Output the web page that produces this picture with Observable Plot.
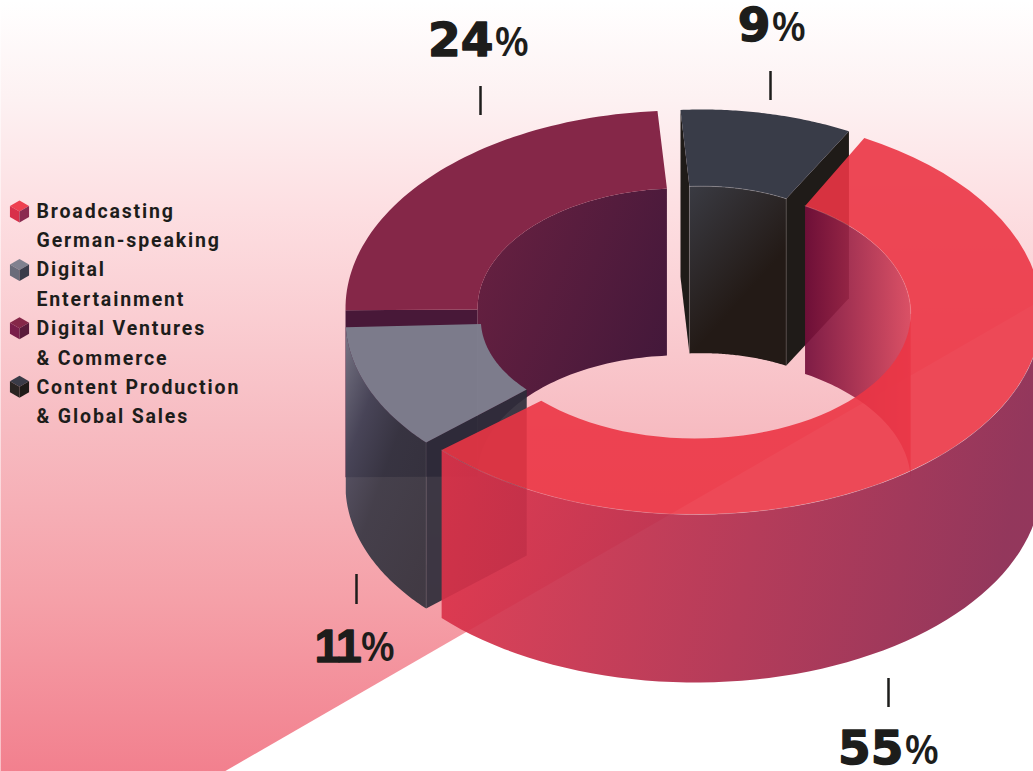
<!DOCTYPE html>
<html>
<head>
<meta charset="utf-8">
<script src="https://cdn.jsdelivr.net/npm/d3@7"></script>
<script src="https://cdn.jsdelivr.net/npm/@observablehq/plot@0.6"></script>
<style>
html,body{margin:0;padding:0;background:#fff;overflow:hidden}
svg{display:block}
.legend text{letter-spacing:1.85px}
.tight text{letter-spacing:-2px}
</style>
</head>
<body>
<div id="chart"></div>
<script>
// ---- data
const segments = ["Broadcasting German-speaking","Digital Entertainment","Digital Ventures & Commerce","Content Production & Global Sales"];
const shares = [55, 11, 24, 9];
const legendLines = [["Broadcasting","German-speaking"],["Digital","Entertainment"],["Digital Ventures","& Commerce"],["Content Production","& Global Sales"]];

// ---- layout of the extruded, exploded ring
const W = 1033, H = 771;
const red  = {share: shares[0], cx: 695, cy: 313, rx: 346, ry: 201, ir: .622, start: -60.8, depth: 168, trim: 1.4};
const grey = {share: shares[1], cx: 659, cy: 319, rx: 314, ry: 184, ir: .569, start: 138,   depth: 166, trim: 0};
const plum = {share: shares[2], cx: 681, cy: 308, rx: 336, ry: 198, ir: .607, start: -180.5,depth: 167, trim: 0};
const dark = {share: shares[3], cx: 701, cy: 289, rx: 309, ry: 180, ir: .574, start: -93.9, depth: 167, trim: 0};
const endOf = w => w.start + w.share * 3.6;

const arc = (w, r, a0, a1, d = 0) => d3.range(0, 61).map(i => {
  const t = (a0 + (a1 - a0) * i / 60) * Math.PI / 180;
  return [w.cx + w.rx * r * Math.cos(t), w.cy + w.ry * r * Math.sin(t) + d];
});
const topFace = w => [...arc(w, 1, w.start, endOf(w)), ...arc(w, w.ir, endOf(w) - w.trim, w.start + w.trim)];
const wall = (w, r, a0, a1) => [...arc(w, r, a0, a1), ...arc(w, r, a1, a0, w.depth)];
const cap = (w, a) => [...arc(w, 1, a, a).slice(0, 1), ...arc(w, w.ir, a, a).slice(0, 1),
                       ...arc(w, w.ir, a, a, w.depth).slice(0, 1), ...arc(w, 1, a, a, w.depth).slice(0, 1)];
const upright = (w, r, a) => [...arc(w, r, a, a).slice(0, 1), ...arc(w, r, a, a, w.depth).slice(0, 1)];
const face = (pts, fill, fillOpacity = 1) => Plot.line(pts, {x: d => d[0], y: d => d[1], fill, fillOpacity, stroke: "none"});
const edge = (pts, strokeOpacity = .4) => Plot.line(pts, {x: d => d[0], y: d => d[1], stroke: "#fff", strokeOpacity, strokeWidth: .7});

const gradients = () => {
  const defs = document.createElementNS("http://www.w3.org/2000/svg", "defs");
  const lg = (id, x2, y2, stops) => `<linearGradient id="${id}" x1="0" y1="0" x2="${x2}" y2="${y2}">` +
    stops.map(([o, c]) => `<stop offset="${o}" stop-color="${c}"/>`).join("") + `</linearGradient>`;
  defs.innerHTML =
    lg("gBg", 0, 1, [[0,"#ffffff"],[.13,"#fdf1f2"],[.27,"#fddfe2"],[.55,"#f7bcc2"],[.78,"#f5a0a8"],[1,"#f2808e"]]) +
    lg("gPlumIn", 1, .6, [[0,"#6a2141"],[1,"#43183a"]]) +
    lg("gDarkIn", .6, 1, [[0,"#3a3b43"],[.7,"#231a16"],[1,"#231a16"]]) +
    lg("gRedIn", 1, 0, [[0,"#740e3a"],[1,"#d8465c"]]) +
    lg("gRedOut", 1, .12, [[0,"#e23349"],[1,"#8a264e"]]) +
    lg("gGreyOut", .8, 1, [[0,"#7c7e8c"],[.3,"#48485a"],[.55,"#363642"],[1,"#32313b"]]);
  return defs;
};

const cube = part => ({draw(c, size) {
  const k = Math.sqrt(size / Math.PI), a = k * .87, b = k * .5;
  if (part === "top") { c.moveTo(0, -k); c.lineTo(a, -b); c.lineTo(0, 0); c.lineTo(-a, -b); }
  if (part === "left") { c.moveTo(-a, -b); c.lineTo(0, 0); c.lineTo(0, k); c.lineTo(-a, b); }
  if (part === "right") { c.moveTo(a, -b); c.lineTo(0, 0); c.lineTo(0, k); c.lineTo(a, b); }
  c.closePath();
}});

const cubeColors = [["#ee4050","#d8304a","#8a2a50"],["#80818f","#6a6c7a","#3a3c4a"],["#852748","#7a1e4a","#5a1a3a"],["#3a3b47","#2a2422","#1f1b18"]];
const legendTop = 211, legendStep = 29.35, ink = "#1d1d1b";
const legendText = legendLines.flatMap((ls, i) => ls.map((t, j) => ({t, row: i * 2 + j})));
const cubeRows = legendLines.map((_, i) => ({i, y: legendTop + i * 2 * legendStep - .3 * i}));

const labels = [
  {v: shares[0], x: 903, y: 766, tx: 888, t1: 678, t2: 707},
  {v: shares[1], x: 359, y: 663, tx: 356, t1: 574, t2: 604},
  {v: shares[2], x: 493, y: 58,  tx: 480, t1: 86,  t2: 115},
  {v: shares[3], x: 770, y: 43,  tx: 770, t1: 71,  t2: 100}
];

const bgEdge = x => 771 - (x - 224) * .577;

const chart = Plot.plot({
  width: W, height: H, margin: 0,
  x: {domain: [0, W], range: [0, W], axis: null},
  y: {domain: [0, H], range: [0, H], axis: null},
  style: {background: "#fff", overflow: "hidden"},
  marks: [
    gradients,
    face([[0,0],[W,0],[W,bgEdge(W)],[224,H],[0,H]], "url(#gBg)"),

    // Digital Ventures & Commerce
    face(wall(plum, plum.ir, plum.start, endOf(plum)), "url(#gPlumIn)"),
    face(cap(plum, plum.start), "#481838"),
    face(topFace(plum), "#852748"),

    // Digital Entertainment
    face(wall(grey, 1, grey.start, endOf(grey)), "url(#gGreyOut)", .92),
    face(cap(grey, grey.start), "#2c2c39", .92),
    edge(upright(grey, 1, grey.start), .15),
    face(topFace(grey), "#7e7f8e", .97),

    // Content Production & Global Sales
    face(cap(dark, dark.start), "#1f1b18"),
    face(cap(dark, endOf(dark)), "#1f1b18"),
    face(wall(dark, dark.ir, dark.start, endOf(dark)), "url(#gDarkIn)"),
    face(topFace(dark), "#393c48"),
    edge(arc(dark, dark.ir, dark.start, endOf(dark)), .3),
    edge(upright(dark, dark.ir, endOf(dark)), .22),
    edge(upright(dark, dark.ir, dark.start), .22),

    // Broadcasting German-speaking
    face(wall(red, red.ir, red.start + red.trim, -1), "url(#gRedIn)", .92),
    face(topFace(red), "#eb3545", .9),
    face(wall(red, 1, 0, endOf(red)), "url(#gRedOut)", .92),
    edge(arc(red, 1, 0, endOf(red)), .22),
    edge(arc(red, red.ir, red.start + red.trim, 0), .25),

    // value ticks and labels
    Plot.ruleX(labels, {x: "tx", y1: "t1", y2: "t2", stroke: ink, strokeWidth: 2.5}),
    Plot.text(labels.filter(d => d.v !== 11), {x: "x", y: "y", text: d => `${d.v}`, textAnchor: "end", lineAnchor: "bottom", dy: -3,
      fontFamily: "DejaVu Sans", fontWeight: 700, fontSize: 47, fill: ink, stroke: ink, strokeWidth: 1.4}),
    Plot.text(labels.filter(d => d.v === 11), {x: "x", y: "y", text: d => `${d.v}`, textAnchor: "end", lineAnchor: "bottom", dy: -2, className: "tight",
      fontFamily: "Liberation Sans", fontWeight: 700, fontSize: 46, fill: ink, stroke: ink, strokeWidth: 1.5}),
    Plot.text(labels, {x: "x", y: "y", text: () => "%", textAnchor: "start", lineAnchor: "bottom", dx: 1, dy: -3,
      fontFamily: "Open Sans", fontWeight: 600, fontSize: 40, fill: ink}),

    // legend
    ...[0, 1, 2].map(p => Plot.dot(cubeRows, {x: () => 19, y: "y", r: 11, stroke: "none",
      symbol: cube(["top", "left", "right"][p]), fill: d => cubeColors[d.i][p]})),
    Plot.text(legendText, {x: () => 36, y: d => legendTop + d.row * legendStep, text: "t", textAnchor: "start", className: "legend",
      fontFamily: "Roboto", fontWeight: 700, fontSize: 19.5, fill: ink})
  ],
  color: {type: "identity"}
});
document.getElementById("chart").append(chart);
</script>
</body>
</html>
